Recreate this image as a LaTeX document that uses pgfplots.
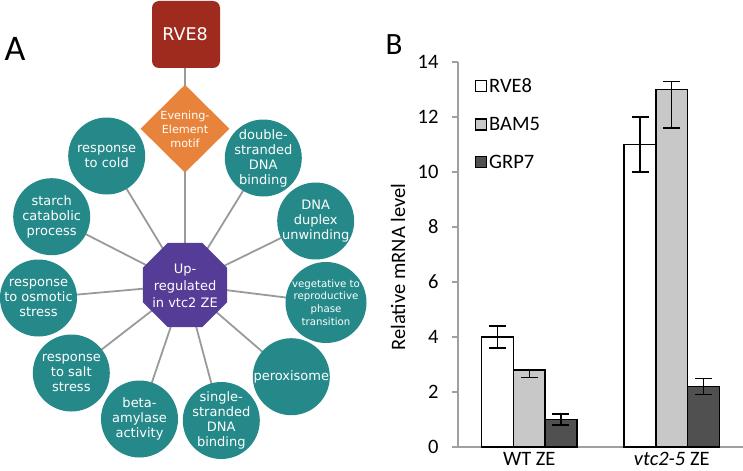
\documentclass[border=0pt]{standalone}
\usepackage{fontspec}
\setmainfont{Carlito}
\newfontfamily\dejavu{DejaVu Sans}
\usepackage{pgfplots}
\pgfplotsset{compat=1.18}
\usetikzlibrary{shapes.geometric}
\definecolor{tealc}{HTML}{25898A}
\definecolor{purplec}{HTML}{553D97}
\definecolor{orangec}{HTML}{E8833B}
\definecolor{redc}{HTML}{9F2B1F}
\definecolor{linec}{HTML}{9A9A9A}
\definecolor{axgray}{HTML}{A0A0A0}
\definecolor{barlight}{HTML}{C8C8C8}
\definecolor{bardark}{HTML}{505050}
\newcommand{\bub}[4][\fontsize{13bp}{15bp}\selectfont]{%
  \fill[tealc] (axis cs:#2,#3) circle[radius=38.5bp];
  \node[align=center, text=white, inner sep=0pt, font=\dejavu#1] at (axis cs:#2,#3) {#4};}
\newcommand{\lnk}[2]{\draw[linec, line width=1.8bp] (axis cs:185,285) -- (axis cs:#1,#2);}
\begin{document}
\begin{tikzpicture}
\useasboundingbox (0,0) rectangle (743bp,471bp);
% Panel A
\begin{axis}[at={(0,0)}, anchor=south west, scale only axis, width=370bp, height=471bp,
  xmin=0, xmax=370, ymin=0, ymax=471, y dir=reverse, axis lines=none, clip=false]
\lnk{106.7}{156}
\lnk{51.7}{216.7}
\lnk{263.3}{158}
\lnk{315.7}{221}
\lnk{38.5}{298}
\lnk{326}{302.5}
\lnk{71.3}{373}
\lnk{291.3}{376.7}
\lnk{139.5}{419}
\lnk{221.3}{420.5}
\draw[linec, line width=1.8bp] (axis cs:185,68) -- (axis cs:185,285);
\fill[redc, rounded corners=7bp] (axis cs:152,1) rectangle (axis cs:220,68);
\node[text=white, font=\dejavu\fontsize{17.5bp}{20bp}\selectfont] at (axis cs:185,34.5) {RVE8};
\node[diamond, fill=orangec, minimum width=89bp, minimum height=88bp, inner sep=0pt] at (axis cs:185,128.7) {};
\node[align=center, text=white, inner sep=0pt, font=\dejavu\fontsize{11.2bp}{14bp}\selectfont] at (axis cs:185,129) {Evening-\\Element\\motif};
\node[regular polygon, regular polygon sides=8, fill=purplec, minimum size=91bp, inner sep=0pt] at (axis cs:185,285) {};
\node[align=center, text=white, inner sep=0pt, font=\dejavu\fontsize{13bp}{16.7bp}\selectfont] at (axis cs:185,286) {Up-\\regulated\\in vtc2 ZE};
\bub{106.7}{156}{response\\to cold}
\bub{51.7}{216.7}{starch\\catabolic\\process}
\bub{263.3}{158}{double-\\stranded\\DNA\\binding}
\bub{315.7}{221}{DNA\\duplex\\unwinding}
\bub{38.5}{298}{response\\to osmotic\\stress}
\fill[tealc] (axis cs:326,302.5) circle[radius=40.5bp];
\node[align=center, text=white, inner sep=0pt, font=\dejavu\fontsize{10.2bp}{12.7bp}\selectfont] at (axis cs:326,302.5) {vegetative to\\reproductive\\phase\\transition};
\bub{71.3}{373}{response\\to salt\\stress}
\bub{291.3}{376.7}{peroxisome}
\bub{139.5}{419}{beta-\\amylase\\activity}
\bub{221.3}{420.5}{single-\\stranded\\DNA\\binding}
\node[font=\fontsize{36bp}{40bp}\selectfont] at (axis cs:15,49) {A};
\end{axis}
% Panel B
\begin{axis}[at={(458bp,24bp)}, anchor=south west, scale only axis,
  width=285bp, height=385bp,
  xmin=-0.5, xmax=1.5, ymin=0, ymax=14,
  ybar=0pt, bar width=31.7bp,
  axis x line=bottom, axis y line=left,
  axis line style={draw=axgray, line width=1.4bp, -},
  ytick={0,2,...,14}, xtick={0,1},
  xticklabels={WT ZE, {\itshape vtc2-5} ZE},
  xtick style={draw=none},
  ytick style={draw=axgray, line width=1.2bp},
  tick align=outside, major tick length=6bp,
  /pgf/number format/assume math mode=true,
  tick label style={font=\fontsize{20.5bp}{24bp}\selectfont},
  yticklabel style={xshift=-10bp},
  xticklabel style={inner sep=0pt, anchor=north, yshift=1bp},
  ylabel={Relative mRNA level},
  ylabel style={font=\fontsize{20.5bp}{24bp}\selectfont, at={(axis description cs:-0.21,0.4675)}, anchor=center},
  legend image code/.code={\draw[#1,/tikz/.cd,line width=1.2bp] (0bp,-5.5bp) rectangle (11bp,5.5bp);},
  legend style={draw=none, fill=none, at={(axis description cs:0.0596,0.962)}, anchor=north west,
    font=\fontsize{20.5bp}{24bp}\selectfont, row sep=19bp, inner sep=0pt, outer sep=0pt,
    nodes={inner sep=2bp}},
  legend cell align=left,
  clip=false]
\addplot[fill=white, draw=black, line width=1.5bp,
  error bars/.cd, y dir=both, y explicit,
  error bar style={line width=1.3bp, black},
  error mark options={rotate=90, mark size=8.5bp, line width=1.3bp, black}]
  coordinates {(0,4) +- (0,0.4) (1,11) +- (0,1)};
\addplot[fill=barlight, draw=black, line width=1.5bp,
  error bars/.cd, y dir=both, y explicit,
  error bar style={line width=1.3bp, black},
  error mark options={rotate=90, mark size=8.5bp, line width=1.3bp, black}]
  coordinates {(0,2.8) += (0,0.02) -= (0,0.28) (1,13) += (0,0.3) -= (0,1.4)};
\addplot[fill=bardark, draw=black, line width=1.5bp,
  error bars/.cd, y dir=both, y explicit,
  error bar style={line width=1.3bp, black},
  error mark options={rotate=90, mark size=8.5bp, line width=1.3bp, black}]
  coordinates {(0,1) +- (0,0.2) (1,2.2) +- (0,0.3)};
\legend{RVE8, BAM5, GRP7}
\node[font=\fontsize{31bp}{34bp}\selectfont] at (axis description cs:-0.224,1.044) {B};
\end{axis}
\end{tikzpicture}
\end{document}
